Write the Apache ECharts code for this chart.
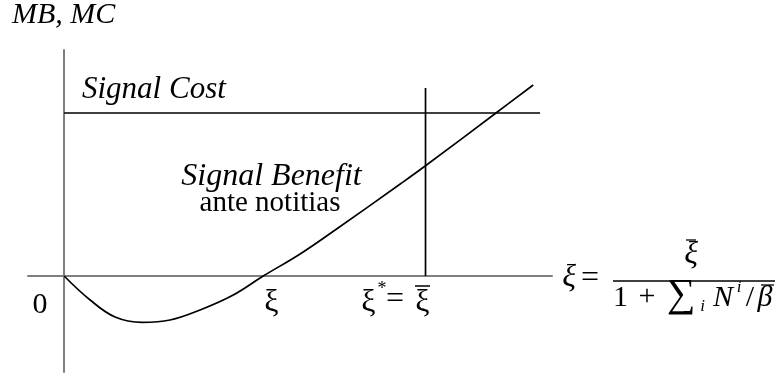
<!DOCTYPE html>
<html>
<head>
<meta charset="utf-8">
<script src="https://cdn.jsdelivr.net/npm/echarts@6/dist/echarts.min.js"></script>
<style>
    html, body { margin: 0; padding: 0; background: #fff; }
    #chart { width: 781px; height: 376px; }
</style>
</head>
<body>
<div id="chart"></div>
<script>
    // benefit curve (x in units where xi-bar = 10)
    var benefitX = [0, 0.72, 1.41, 2.16, 2.93, 3.76, 4.68, 5.51, 6.53, 7.50, 9.30, 9.99, 11.95, 12.98];
    var benefitY = [0, -2.4, -4.1, -4.63, -4.4, -3.4, -1.9, 0, 2.2, 4.6, 9.2, 11.0, 16.3, 19.1];
    var costLevel = 16.3;
    var costEnd = 13.17;
    var xiBar = 10;
    var xiBarTop = 18.8;

    var serif = '"Liberation Serif", "DejaVu Serif", serif';
    var black = '#000';
    var grey = '#7f7f7f';

    var curve = benefitX.map(function (x, i) { return [x, benefitY[i]]; });

    function txt(s, x, y, size, opts) {
        opts = opts || {};
        return {
            type: 'text', x: x, y: y,
            style: {
                text: s,
                font: (opts.italic ? 'italic ' : '') + size + 'px ' + serif,
                fill: black,
                align: opts.align || 'center',
                verticalAlign: 'middle'
            }
        };
    }
    function bar(x1, x2, y, w) {
        return { type: 'line', shape: { x1: x1, y1: y, x2: x2, y2: y }, style: { stroke: black, lineWidth: w || 1.3 } };
    }

    var myChart = echarts.init(document.getElementById('chart'));
    var option = {
        animation: false,
        grid: { left: 28, right: 229, top: 50, bottom: 4 },
        xAxis: {
            type: 'value',
            min: -1,
            max: 13.5,
            axisLine: { onZero: true, lineStyle: { color: grey, width: 2 } },
            axisTick: { show: false },
            axisLabel: { show: false },
            splitLine: { show: false }
        },
        yAxis: {
            type: 'value',
            min: -9.6,
            max: 22.6,
            axisLine: { show: true, onZero: true, lineStyle: { color: grey, width: 2 } },
            axisTick: { show: false },
            axisLabel: { show: false },
            splitLine: { show: false }
        },
        series: [
            {
                name: 'Signal Benefit',
                type: 'line',
                data: curve,
                smooth: 0.4,
                showSymbol: false,
                lineStyle: { color: black, width: 1.7 }
            },
            {
                name: 'Signal Cost',
                type: 'line',
                data: [[0, costLevel], [costEnd, costLevel]],
                showSymbol: false,
                lineStyle: { color: black, width: 1.7 }
            },
            {
                name: 'xi bar',
                type: 'line',
                data: [[xiBar, 0], [xiBar, xiBarTop]],
                showSymbol: false,
                lineStyle: { color: black, width: 1.7 }
            }
        ],
        graphic: [
            txt('MB, MC', 12, 15, 30, { italic: true, align: 'left' }),
            txt('Signal Cost', 82, 89.5, 31, { italic: true, align: 'left' }),
            txt('Signal Benefit', 271.5, 176.5, 32, { italic: true }),
            txt('ante notitias', 270, 203.5, 29),
            txt('0', 40, 305, 30),
            // xi and xi* = xi-bar under the axis
            txt('ξ', 271.5, 302.5, 32),
            txt('ξ', 368.5, 302.5, 32),
            txt('*', 382, 289.5, 18),
            txt('=', 395, 300, 32),
            txt('ξ', 422.5, 302.5, 32),
            bar(415, 430, 286, 1.5),
            // xi = xi-bar / (1 + sum_i N^i / beta-bar)
            txt('ξ', 569, 277.5, 32, { italic: true }),
            txt('=', 590, 278.5, 32),
            txt('ξ', 691, 255, 32, { italic: true }),
            bar(686, 696, 240),
            bar(613, 775, 281, 1.5),
            txt('1', 620.5, 298, 30),
            txt('+', 647, 297, 30),
            txt('∑', 681, 295, 40),
            txt('i', 702.5, 307, 17, { italic: true }),
            txt('N', 723, 298, 30, { italic: true }),
            txt('i', 739, 288, 17, { italic: true }),
            txt('/', 750, 298, 30),
            txt('β', 765, 298, 30, { italic: true }),
            bar(761, 774, 285)
        ]
    };
    myChart.setOption(option);
</script>
</body>
</html>
